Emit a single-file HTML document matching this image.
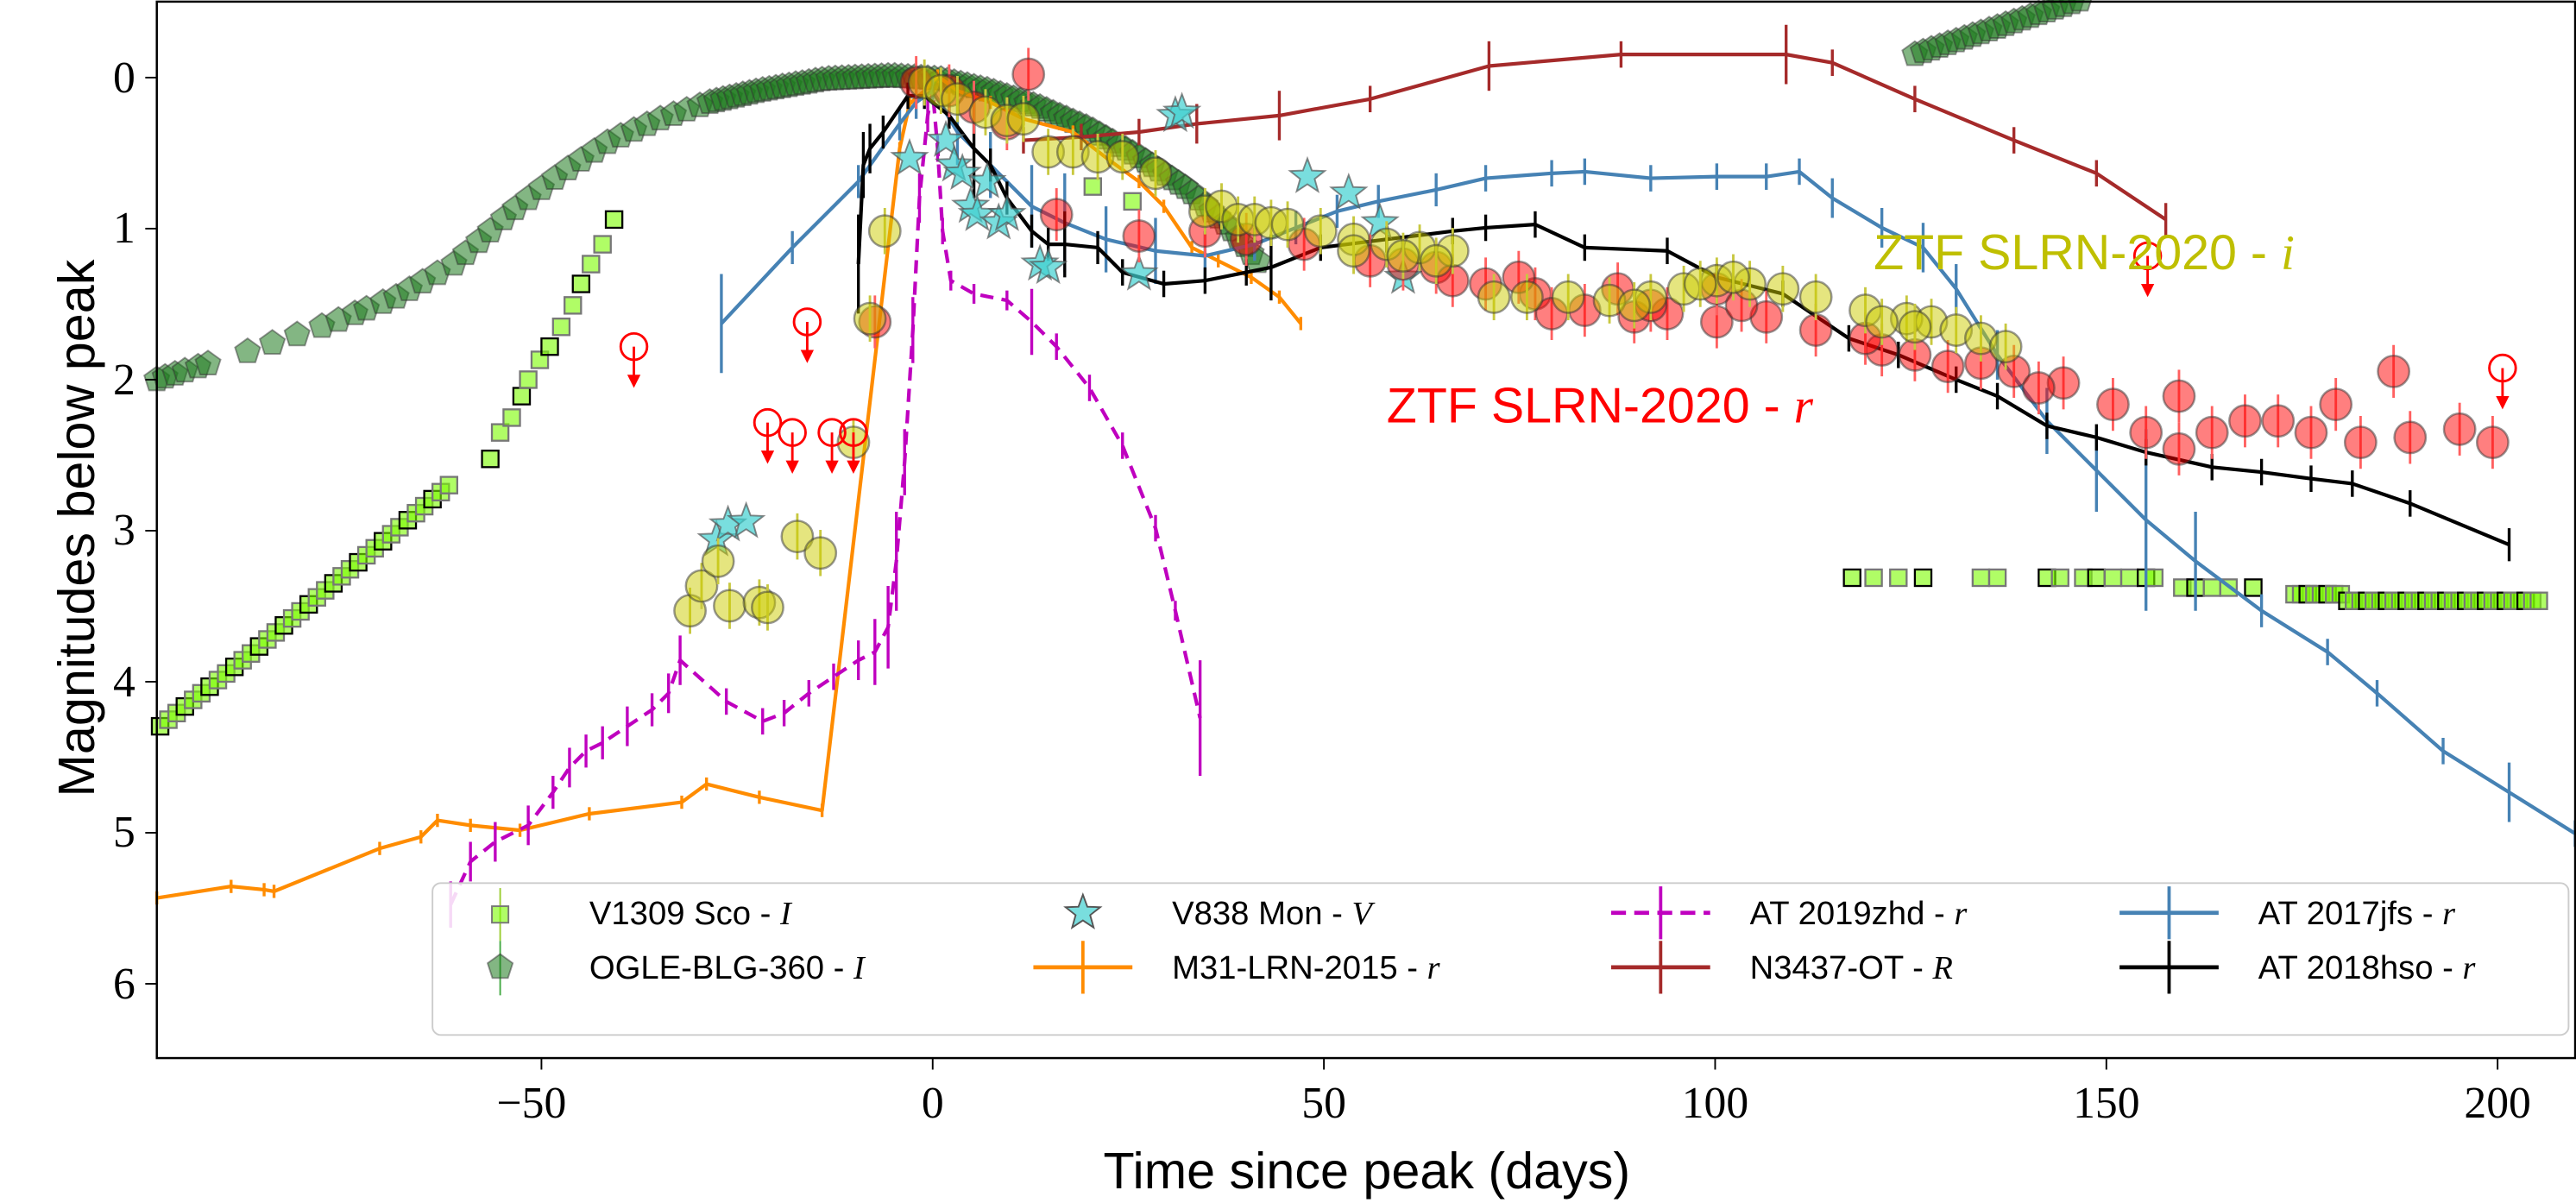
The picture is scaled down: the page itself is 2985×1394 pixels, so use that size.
<!DOCTYPE html>
<html><head><meta charset="utf-8"><style>
html,body{margin:0;padding:0;background:#fff}
svg{display:block}
text{font-family:"Liberation Sans",sans-serif}
.tk text{font-family:"Liberation Serif",serif;font-size:27px}
.it{font-family:"Liberation Serif",serif;font-style:italic}
</style></head><body>
<svg id="s" width="2985" height="1394" viewBox="0 0 1560.5 728.8" preserveAspectRatio="none" xmlns="http://www.w3.org/2000/svg">
<rect x="0" y="0" width="1561" height="729" fill="#fff"/>
<g id="data"></g>
<text x="1135" y="163" font-size="30" fill="#bfbf00">ZTF SLRN-2020 - <tspan class="it">i</tspan></text>
<text x="840" y="256" font-size="30" fill="#ff0000">ZTF SLRN-2020 - <tspan class="it">r</tspan></text>
<!-- legend -->
<rect x="262" y="535" width="1294" height="92" rx="5" fill="#fff" fill-opacity="0.85" stroke="#ccc" stroke-width="1"/>
<g id="leg"></g>
<g font-size="20">
<text x="357" y="560">V1309 Sco - <tspan class="it">I</tspan></text>
<text x="357" y="593">OGLE-BLG-360 - <tspan class="it">I</tspan></text>
<text x="710" y="560">V838 Mon - <tspan class="it">V</tspan></text>
<text x="710" y="593">M31-LRN-2015 - <tspan class="it">r</tspan></text>
<text x="1060" y="560">AT 2019zhd - <tspan class="it">r</tspan></text>
<text x="1060" y="593">N3437-OT - <tspan class="it">R</tspan></text>
<text x="1368" y="560">AT 2017jfs - <tspan class="it">r</tspan></text>
<text x="1368" y="593">AT 2018hso - <tspan class="it">r</tspan></text>
</g>
<!-- axes -->
<rect x="95" y="1" width="1465" height="640" fill="none" stroke="#000" stroke-width="1.3"/>
<g stroke="#000" stroke-width="1">
<line x1="328" y1="641" x2="328" y2="648"/><line x1="565" y1="641" x2="565" y2="648"/><line x1="802" y1="641" x2="802" y2="648"/><line x1="1039" y1="641" x2="1039" y2="648"/><line x1="1276" y1="641" x2="1276" y2="648"/><line x1="1513" y1="641" x2="1513" y2="648"/>
<line x1="88" y1="47" x2="95" y2="47"/><line x1="88" y1="138.5" x2="95" y2="138.5"/><line x1="88" y1="230" x2="95" y2="230"/><line x1="88" y1="321.5" x2="95" y2="321.5"/><line x1="88" y1="413" x2="95" y2="413"/><line x1="88" y1="504.5" x2="95" y2="504.5"/><line x1="88" y1="596" x2="95" y2="596"/>
</g>
<g class="tk" text-anchor="middle">
<text x="322" y="677">−50</text><text x="565" y="677">0</text><text x="802" y="677">50</text><text x="1039" y="677">100</text><text x="1276" y="677">150</text><text x="1513" y="677">200</text>
</g>
<g class="tk" text-anchor="end">
<text x="82" y="56">0</text><text x="82" y="147">1</text><text x="82" y="239">2</text><text x="82" y="330">3</text><text x="82" y="422">4</text><text x="82" y="513">5</text><text x="82" y="605">6</text>
</g>
<text x="828" y="720" font-size="31" text-anchor="middle">Time since peak (days)</text>
<text transform="translate(57,320) rotate(-90)" font-size="31" text-anchor="middle">Magnitudes below peak</text>
</svg>
<script>
var NS="http://www.w3.org/2000/svg",G=document.getElementById("data"),L=document.getElementById("leg");
function el(p,t,a){var e=document.createElementNS(NS,t);for(var k in a)e.setAttribute(k,a[k]);p.appendChild(e);return e;}
function pent(x,y,r){var s="";for(var i=0;i<5;i++){var a=-Math.PI/2+i*2*Math.PI/5;s+=(x+r*Math.cos(a)).toFixed(1)+","+(y+r*Math.sin(a)).toFixed(1)+" ";}return s;}
function star(x,y,r){var s="";for(var i=0;i<10;i++){var a=-Math.PI/2+i*Math.PI/5,rr=i%2?r*0.42:r;s+=(x+rr*Math.cos(a)).toFixed(1)+","+(y+rr*Math.sin(a)).toFixed(1)+" ";}return s;}
function line(p,pts,col,w,dash,err){var d=pts.map(function(q){return q[0]+","+q[1]}).join(" ");var a={points:d,fill:"none",stroke:col,"stroke-width":w,"stroke-linejoin":"round"};if(dash)a["stroke-dasharray"]=dash;el(p,"polyline",a);if(err)pts.forEach(function(q,i){var h=q[2]||err;el(p,"line",{x1:q[0],y1:q[1]-h,x2:q[0],y2:q[1]+h,stroke:col,"stroke-width":w*0.8});});}
function interp(cp,x){for(var i=0;i<cp.length-1;i++){if(x>=cp[i][0]&&x<=cp[i+1][0]){var t=(x-cp[i][0])/(cp[i+1][0]-cp[i][0]);return cp[i][1]+t*(cp[i+1][1]-cp[i][1]);}}return cp[cp.length-1][1];}
// OGLE curve
var ogc=[[95,230],[150,213],[200,196],[240,180],[275,160],[310,128],[340,105],[370,85],[400,72],[430,62],[460,55],[500,48],[540,46],[570,48],[600,55],[630,65],[660,78],[690,95],[720,115],[745,138],[765,162]];
var og=[];
[95,100,106,112,120,126,150,165,180,195,205,215,222,232,240,248,256,265,275,282,290,297,305,312,320,328,336,344,352,360,368,376,384,392,400,408,416,424].forEach(function(x){og.push([x,interp(ogc,x)]);});
for(var x=430;x<=765;x+=4)og.push([x,interp(ogc,x)]);
og.forEach(function(p){el(G,"polygon",{points:pent(p[0],p[1],8),fill:"#1e7a1e","fill-opacity":0.55,stroke:"#333","stroke-opacity":0.5,"stroke-width":1});});
for(var x=1160;x<=1262;x+=5)el(G,"polygon",{points:pent(x,33-(x-1160)*0.33,8),fill:"#1e7a1e","fill-opacity":0.55,stroke:"#333","stroke-opacity":0.5});
// V1309 Sco squares
var vs=[];for(var x=97;x<=272;x+=5){vs.push([x,440-(x-97)*0.8+(x>150?-(x-150)*0.05:0)]);}
[[297,278],[303,262],[310,253],[316,240],[320,230],[327,218],[333,210],[340,198],[347,185],[352,172],[358,160],[365,148],[372,133],[662,113],[686,122]].forEach(function(p){vs.push(p)});
[1122,1135,1150,1165,1200,1210,1240,1248,1262,1270,1280,1290,1300,1305,1322,1330,1340,1350,1365].forEach(function(x){vs.push([x,x<1320?350:356]);});
for(var x=1390;x<=1540;x+=4)vs.push([x,363+(x<1420?-3:1)]);
vs.forEach(function(p,i){el(G,"rect",{x:p[0]-5,y:p[1]-5,width:10,height:10,fill:"#7cfc00","fill-opacity":0.6,stroke:i%3?"#777":"#000","stroke-width":1.2});});
// M31 orange
line(G,[[95,544],[140,537],[160,539],[166,540],[230,514],[255,507],[265,497],[285,500],[315,503],[357,493],[413,486],[428,475],[460,483],[498,491],[545,90],[551,63],[560,55],[568,46],[580,55],[600,62],[620,72],[650,80],[672,97],[690,110],[705,125],[722,150],[738,158],[758,168],[775,180],[788,196]],"#ff8c00",2.2,null,4);
// AT2019zhd magenta dashed
line(G,[[273,548,14],[285,522,12],[300,510,12],[320,500,12],[335,480,10],[345,465,12],[355,455,10],[365,450,10],[380,440,12],[395,430,10],[405,420,12],[412,400,15],[440,425,8],[462,437,8],[475,432,8],[490,420,8],[505,410,8],[520,400,12],[530,395,20],[538,380,25],[543,340,30],[548,280,20],[553,200,20],[557,120,15],[562,70,10],[565,55,8],[568,90,8],[571,140,8],[576,170,6],[590,178,6],[610,182,6],[625,195,20],[640,210,8],[660,235,8],[680,270,8],[700,320,8],[712,370,6],[727,435,35]],"#bf00bf",2.2,"8,5",8);
// AT2017jfs blue
line(G,[[437,196,30],[480,150,10],[520,110,10],[545,75,10],[555,62,10],[565,55,8],[580,80,20],[600,100,20],[625,125,25],[645,135,30],[670,145,20],[700,152,20],[730,155,15],[760,148,10],[785,138,10],[810,128,10],[835,122,10],[870,115,10],[900,108,8],[940,105,8],[960,104,8],[1000,108,8],[1040,107,8],[1070,107,8],[1090,104,8],[1110,120,12],[1140,138,12],[1165,150,15],[1185,175,15],[1210,215,15],[1240,255,20],[1270,285,25],[1300,315,55],[1330,340,30],[1370,370,10],[1410,395,8],[1440,420,8],[1480,455,8],[1520,480,18],[1560,505,0]],"#4682b4",2.2,null,8);
// AT2018hso black
line(G,[[520,160,30],[523,100,20],[527,90,15],[535,80,10],[550,58,8],[560,58,8],[575,70,8],[590,90,30],[600,100,10],[610,120,10],[625,140,10],[635,148,10],[645,148,20],[665,150,10],[680,165,8],[705,172,8],[730,170,8],[755,165,8],[770,162,20],[800,150,8],[840,145,8],[880,140,8],[900,138,8],[930,136,8],[960,150,8],[1010,152,8],[1040,168,8],[1080,178,8],[1120,205,8],[1150,215,8],[1185,230,8],[1210,240,8],[1240,258,8],[1270,265,8],[1300,274,8],[1340,283,8],[1370,286,8],[1400,290,8],[1425,293,8],[1460,305,8],[1520,330,10]],"#000",2.2,null,8);
// N3437 brown
line(G,[[620,85,8],[655,83,8],[690,80,8],[725,75,12],[775,70,15],[830,60,8],[902,40,15],[982,33,8],[1082,33,18],[1110,38,8],[1160,60,8],[1220,85,8],[1270,105,8],[1312,133,10]],"#a52a2a",2.2,null,8);
// V838 stars
[[434,327],[441,318],[452,316],[551,96],[573,85],[578,100],[583,105],[588,125],[592,130],[598,110],[605,135],[610,130],[712,70],[716,68],[792,107],[817,117],[836,135],[850,168],[630,160],[635,162],[690,166]].forEach(function(p){el(G,"polygon",{points:star(p[0],p[1],11),fill:"#40d0d0","fill-opacity":0.7,stroke:"#555","stroke-opacity":0.7});});
// ZTF r red
var red=[[623,45],[555,50],[575,55],[590,65],[610,75],[530,195],[640,130],[690,143],[730,140],[755,145],[790,148],[830,158],[850,160],[870,162],[900,172],[930,178],[960,188],[990,192],[1040,195],[1070,192],[1100,200],[1140,212],[1160,215],[1200,220],[1220,225],[1250,232],[1280,245],[1300,262],[1320,272],[1340,262],[1360,255],[1380,255],[1400,262],[1430,268],[1460,265],[1490,260],[1510,268],[1450,225],[1415,245],[1320,240],[1235,235],[1130,205],[1180,222],[920,168],[880,170],[1040,175],[1055,185],[1010,190],[940,190],[980,175],[1000,185]];
red.forEach(function(p){el(G,"line",{x1:p[0],y1:p[1]-16,x2:p[0],y2:p[1]+16,stroke:"#ff6060","stroke-width":1.5});el(G,"circle",{cx:p[0],cy:p[1],r:9.5,fill:"#ff0000","fill-opacity":0.5,stroke:"#333","stroke-opacity":0.5,"stroke-width":1.3});});
var yel=[[418,370],[425,355],[435,340],[442,367],[460,365],[465,368],[483,325],[497,335],[517,268],[527,193],[536,140],[560,50],[570,55],[580,60],[597,68],[610,73],[620,72],[635,92],[650,92],[665,95],[680,95],[700,105],[730,128],[740,125],[750,133],[760,133],[770,135],[780,136],[800,140],[820,145],[840,148],[860,150],[880,152],[905,180],[925,180],[950,180],[975,182],[1000,180],[1020,175],[1040,170],[1060,172],[1080,175],[1100,180],[1130,188],[1155,193],[1170,195],[1185,200],[1200,205],[1215,210],[820,152],[850,155],[870,158],[1030,172],[1050,168],[990,185],[1160,198],[1140,195]];
yel.forEach(function(p){el(G,"line",{x1:p[0],y1:p[1]-14,x2:p[0],y2:p[1]+14,stroke:"#c8c840","stroke-width":1.5});el(G,"circle",{cx:p[0],cy:p[1],r:9.5,fill:"#cccc00","fill-opacity":0.5,stroke:"#333","stroke-opacity":0.5,"stroke-width":1.3});});
// upper limits
[[384,210],[489,195],[465,256],[480,262],[504,262],[517,262],[1301,155],[1516,223]].forEach(function(p){el(G,"circle",{cx:p[0],cy:p[1],r:8,fill:"none",stroke:"#f00","stroke-width":1.5});el(G,"line",{x1:p[0],y1:p[1],x2:p[0],y2:p[1]+18,stroke:"#f00","stroke-width":1.5});el(G,"polygon",{points:(p[0]-4)+","+(p[1]+17)+" "+(p[0]+4)+","+(p[1]+17)+" "+p[0]+","+(p[1]+25),fill:"#f00"});});
// legend markers
el(L,"line",{x1:303,y1:538,x2:303,y2:570,stroke:"#9acd32","stroke-width":1});
el(L,"rect",{x:298,y:549,width:10,height:10,fill:"#7cfc00","fill-opacity":0.6,stroke:"#777"});
el(L,"line",{x1:303,y1:570,x2:303,y2:603,stroke:"#4a4","stroke-width":1});
el(L,"polygon",{points:pent(303,586,8),fill:"#1e7a1e","fill-opacity":0.55,stroke:"#333","stroke-opacity":0.5});
el(L,"polygon",{points:star(656,553,11),fill:"#40d0d0","fill-opacity":0.7,stroke:"#555"});
function lg(x,y,c,d){el(L,"line",{x1:x-30,y1:y,x2:x+30,y2:y,stroke:c,"stroke-width":2.5,"stroke-dasharray":d||"none"});el(L,"line",{x1:x,y1:y-16,x2:x,y2:y+16,stroke:c,"stroke-width":2});}
lg(656,586,"#ff8c00");lg(1006,553,"#bf00bf","9,5");lg(1006,586,"#a52a2a");lg(1314,553,"#4682b4");lg(1314,586,"#000");
</script>
</body></html>
